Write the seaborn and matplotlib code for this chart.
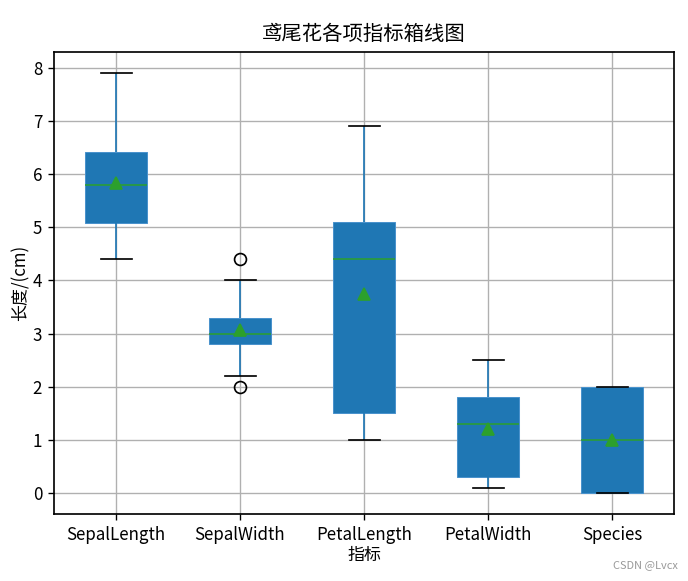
import matplotlib
matplotlib.use("Agg")
import matplotlib.pyplot as plt
import seaborn as sns
import pandas as pd

# ---- data ----
categories = ["SepalLength", "SepalWidth", "PetalLength", "PetalWidth", "Species"]
sepal_length = [4.4, 4.9, 5.08, 5.5, 5.8, 6.1, 6.42, 6.46, 7.9]
sepal_width = [2.0, 2.2, 2.8, 2.84, 3.0, 3.0, 3.3, 4.0, 4.4]
petal_length = [1.0, 1.4, 1.5, 2.0, 4.4, 5.0, 5.1, 6.45, 6.9]
petal_width = [0.1, 0.2, 0.3, 0.9, 1.3, 1.6, 1.8, 2.1, 2.5]
species = [0, 0, 0, 1, 1, 1, 2, 2, 2]
y_ticks = [0, 1, 2, 3, 4, 5, 6, 7, 8]

title = "鸢尾花各项指标箱线图"
x_label = "指标"
y_label = "长度/(cm)"
watermark = "CSDN @Lvcx"

series = [sepal_length, sepal_width, petal_length, petal_width, species]
df = pd.DataFrame({
    "指标": [c for c, s in zip(categories, series) for _ in s],
    "值": [v for s in series for v in s],
})

plt.rcParams["font.family"] = ["Noto Sans CJK SC", "DejaVu Sans"]
plt.rcParams["axes.unicode_minus"] = False

DPI = 122
fig = plt.figure(figsize=(688 / DPI, 581 / DPI), dpi=DPI)
ax = fig.add_axes([54 / 688, 1 - 514 / 581, (674 - 54) / 688, (514 - 52) / 581])

blue = "#1f77b4"
green = "#2ca02c"
sns.boxplot(
    data=df, x="指标", y="值", order=categories, ax=ax,
    width=0.5, saturation=1, color=blue, linewidth=1.0,
    showmeans=True, whis=1.5,
    boxprops=dict(facecolor=blue, edgecolor="#4a92cc", linewidth=0.6),
    whiskerprops=dict(color=blue),
    capprops=dict(color="black"),
    medianprops=dict(color=green, linewidth=0.9),
    flierprops=dict(marker="o", markerfacecolor="none", markeredgecolor="black",
                    markersize=7),
    meanprops=dict(marker="^", markerfacecolor=green, markeredgecolor=green,
                   markersize=7),
)

ax.set_xlim(-0.5, len(categories) - 0.5)
ax.set_yticks(y_ticks)
ax.grid(True, color="#b0b0b0", linewidth=0.8)
ax.set_axisbelow(True)
for sp in ax.spines.values():
    sp.set_color("black")
    sp.set_linewidth(1.0)

ax.tick_params(labelsize=10)
ax.set_title(title, fontsize=12, pad=7)
ax.set_xlabel(x_label, fontsize=10, labelpad=1)
ax.set_ylabel(y_label, fontsize=10, labelpad=2)

fig.text(0.985, 0.018, watermark, ha="right", va="bottom", fontsize=6.5, color="#999999")

fig.savefig("out.png", dpi=DPI)
